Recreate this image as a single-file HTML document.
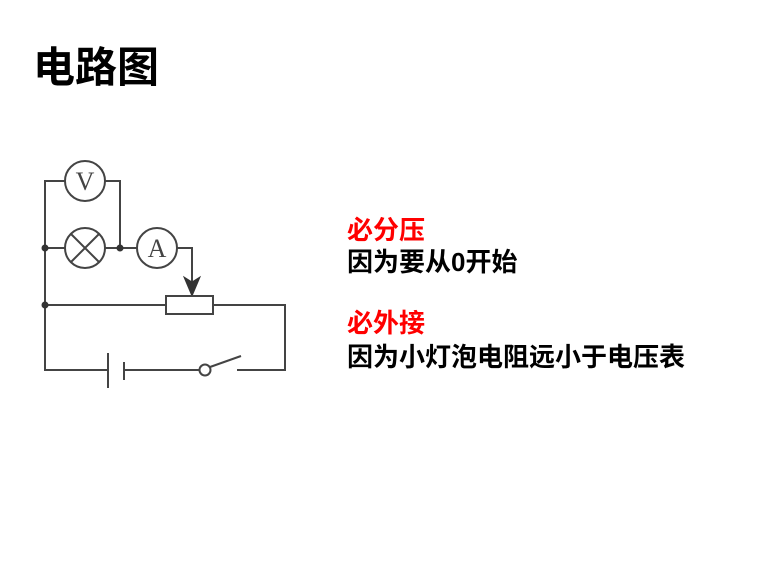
<!DOCTYPE html>
<html><head><meta charset="utf-8"><style>
body{margin:0;width:781px;height:584px;background:#fff;position:relative;overflow:hidden;font-family:"Liberation Sans","Noto Sans CJK SC",sans-serif;}
.t{position:absolute;white-space:nowrap;font-weight:bold;line-height:1;}
</style></head><body>
<div class="t" style="left:33px;top:47px;font-size:42px;color:#000;">电路图</div>
<div class="t" style="left:347px;top:217px;font-size:26px;color:#f00;">必分压</div>
<div class="t" style="left:347px;top:249px;font-size:26px;color:#000;">因为要从0开始</div>
<div class="t" style="left:347px;top:310px;font-size:26px;color:#f00;">必外接</div>
<div class="t" style="left:347px;top:344px;font-size:26px;color:#000;">因为小灯泡电阻远小于电压表</div>
<svg width="781" height="584" style="position:absolute;left:0;top:0" fill="none" stroke="#444" stroke-width="2">
<path d="M65 181H45V370H108M124 370H199M211 370M237 370H285V305H213M166 305H45"/>
<path d="M105 181H120V248"/>
<circle cx="85" cy="181" r="20"/>
<text x="85" y="190" font-family="Liberation Serif,serif" font-size="26" fill="#444" stroke="none" text-anchor="middle">V</text>
<path d="M45 248H65M105 248H137M177 248H192V285"/>
<circle cx="85" cy="248" r="20"/>
<path d="M71 234L99 262M99 234L71 262"/>
<circle cx="157" cy="248" r="20"/>
<text x="157" y="257" font-family="Liberation Serif,serif" font-size="26" fill="#444" stroke="none" text-anchor="middle">A</text>
<path d="M184 277L192 296L200 277L192 282Z" fill="#333" stroke="#333" stroke-width="1"/>
<rect x="166" y="296" width="47" height="18" fill="#fff"/>
<path d="M108 353V388M124 362V380"/>
<circle cx="205" cy="370" r="5.5" fill="#fff"/>
<path d="M210 367L241 356"/>
<circle cx="45" cy="248" r="3.5" fill="#333" stroke="none"/>
<circle cx="120" cy="248" r="3.5" fill="#333" stroke="none"/>
<circle cx="45" cy="305" r="3.5" fill="#333" stroke="none"/>
</svg>
</body></html>
